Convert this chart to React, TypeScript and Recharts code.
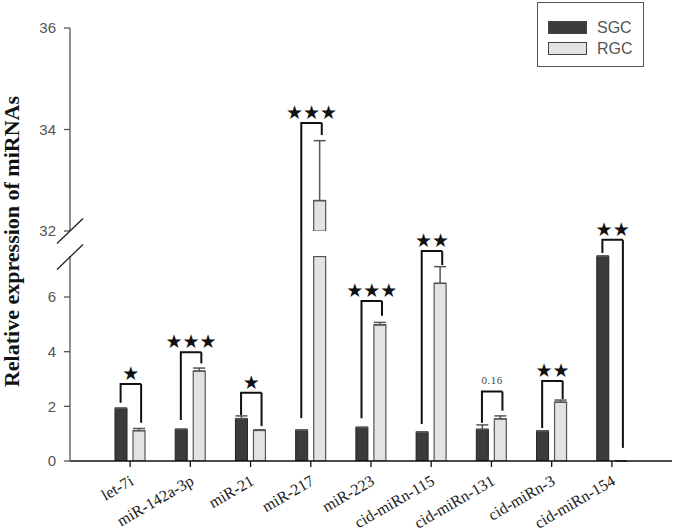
import { BarChart, Bar, XAxis, YAxis, ErrorBar, ReferenceLine, Legend } from 'recharts'

const categories = ['let-7i', 'miR-142a-3p', 'miR-21', 'miR-217', 'miR-223', 'cid-miRn-115', 'cid-miRn-131', 'cid-miRn-3', 'cid-miRn-154']
const sgcValues = [1.93, 1.16, 1.55, 1.13, 1.23, 1.06, 1.16, 1.1, 7.5]
const rgcValues = [1.11, 3.29, 1.12, 32.6, 4.98, 6.5, 1.54, 2.15, 0]
const sgcErrors = [0, 0, 0.1, 0, 0, 0, 0.16, 0, 0]
const rgcErrors = [0.08, 0.11, 0.02, 1.18, 0.09, 0.61, 0.11, 0.08, 0]
const seriesNames = ['SGC', 'RGC']

// significance brackets: top, left leg end, right leg end, mark
const bracketTops = [2.82, 3.98, 2.5, 34.13, 5.85, 7.68, 2.54, 2.93, 8.09]
const bracketLeftEnds = [2.13, 1.5, 1.68, 1.57, 1.56, 1.35, 1.4, 1.21, 7.61]
const bracketRightEnds = [1.4, 3.57, 1.28, 33.89, 5.31, 7.17, 1.84, 2.27, 0.48]
const bracketMarks = ['★', '★★★', '★', '★★★', '★★★', '★★', '0.16', '★★', '★★']

const lowerTicks = [0, 2, 4, 6]
const upperTicks = [32, 34, 36]
const LOWER_MAX = 7.5
const UPPER_MIN = 32
const UPPER_MAX = 36

// layout
const W = 675
const H = 532
const PLOT_LEFT = 70
const PLOT_RIGHT = 672
const UPPER_TOP = 28
const UPPER_BOTTOM = 231
const LOWER_TOP = 256
const LOWER_BOTTOM = 461
const LEG_L = -9.5
const LEG_R = 11

const SGC_FILL = '#3b3b3b'
const RGC_FILL = '#e3e3e3'

const rows = categories.map((name, i) => ({
  name,
  sgc: sgcValues[i],
  rgc: rgcValues[i],
  sgcErr: [0, sgcErrors[i]],
  rgcErr: [0, rgcValues[i] > LOWER_MAX ? 0 : rgcErrors[i]],
}))

const upperRows = categories.map((name, i) => ({
  name,
  sgc: sgcValues[i] > UPPER_MIN ? sgcValues[i] : null,
  rgc: rgcValues[i] > UPPER_MIN ? rgcValues[i] : null,
  sgcErr: [0, sgcValues[i] > UPPER_MIN ? sgcErrors[i] : 0],
  rgcErr: [0, rgcValues[i] > UPPER_MIN ? rgcErrors[i] : 0],
}))

const yTick = { fill: '#555', fontSize: 15, fontFamily: 'Liberation Sans, Arial, sans-serif' }
const bracketStroke = { stroke: '#111', strokeWidth: 2, fill: 'none' }

function LeftPart(p: any) {
  const xl = p.x1 + LEG_L
  const xr = p.x1 + LEG_R
  return <path d={`M${xl},${p.y1}V${p.y2}H${xr}`} {...bracketStroke} />
}

function LegToGap(p: any) {
  const xl = p.x1 + LEG_L
  return <path d={`M${xl},${p.y1}V${p.y2 - (LOWER_TOP - UPPER_BOTTOM)}`} {...bracketStroke} />
}

function RightPart(p: any) {
  const xl = p.x1 + LEG_L
  const xr = p.x1 + LEG_R
  const star = p.mark.startsWith('★')
  return (
    <g>
      <path d={`M${xr},${p.y1}V${p.y2}`} {...bracketStroke} />
      <text
        x={(xl + xr) / 2}
        y={p.y2 - (star ? 11 : 12)}
        textAnchor="middle"
        dominantBaseline="central"
        fill={star ? '#111' : '#444'}
        fontSize={star ? 19 : 11}
        letterSpacing={star ? 0 : 0.5}
        fontFamily={star ? 'DejaVu Sans' : 'Liberation Serif, serif'}
      >
        {p.mark}
      </text>
    </g>
  )
}

// keep the clipped part of a bar outlined at the top of its panel
function ClampedBar(p: any) {
  const top = p.background ? Math.max(p.y, p.background.y + 0.6) : p.y
  const h = p.y + p.height - top
  if (!(h > 0) || !(p.width > 0)) return null
  return <rect x={p.x} y={top} width={p.width} height={h} fill={p.fill} stroke={p.stroke} strokeWidth={p.strokeWidth} />
}

function XTick({ x, y, payload }: any) {
  const ax = x + 4.5
  const ay = y + 15
  return (
    <text
      x={ax}
      y={ay}
      textAnchor="end"
      transform={`rotate(-30 ${ax} ${ay})`}
      fill="#1a1a1a"
      fontSize={16}
      fontFamily="Liberation Serif, Times New Roman, serif"
    >
      {payload.value}
    </text>
  )
}

function LegendBox({ payload }: any) {
  const items = [...(payload || [])].sort((a: any, b: any) => seriesNames.indexOf(a.value) - seriesNames.indexOf(b.value))
  return (
    <div style={{ width: 107, height: 65, border: '1px solid #555', boxSizing: 'border-box', background: '#fff', paddingTop: 14, paddingLeft: 10 }}>
      {items.map((entry: any) => (
        <div key={entry.value} style={{ display: 'flex', alignItems: 'center', height: 21 }}>
          <span style={{ display: 'inline-block', width: 37, height: 11, background: entry.color, border: '1px solid #444' }} />
          <span style={{ marginLeft: 10, fontSize: 16, color: '#555', fontFamily: 'Liberation Sans, Arial, sans-serif' }}>{entry.value}</span>
        </div>
      ))}
    </div>
  )
}

export default function App() {
  return (
    <div style={{ position: 'absolute', left: 0, top: 0, width: W, height: H, background: '#fff' }}>
      {/* upper panel 32-36 */}
      <div style={{ position: 'absolute', left: 0, top: 0 }}>
        <BarChart
          width={W}
          height={H}
          data={upperRows}
          margin={{ top: UPPER_TOP, right: W - PLOT_RIGHT, bottom: H - UPPER_BOTTOM, left: 0 }}
          barSize={12}
          barGap={6}
        >
          <XAxis dataKey="name" hide padding={{ left: 30, right: 30 }} />
          <YAxis
            width={PLOT_LEFT}
            domain={[UPPER_MIN, UPPER_MAX]}
            ticks={upperTicks}
            allowDataOverflow
            tick={yTick}
            tickSize={6}
            tickMargin={8}
            axisLine={{ stroke: '#555', strokeWidth: 1.3 }}
            tickLine={{ stroke: '#555', strokeWidth: 1.3 }}
          />
          <Bar dataKey="sgc" name="SGC" fill={SGC_FILL} stroke="#222" isAnimationActive={false}>
            <ErrorBar dataKey="sgcErr" width={6} stroke="#555" strokeWidth={1.5} />
          </Bar>
          <Bar dataKey="rgc" name="RGC" fill={RGC_FILL} stroke="#555" strokeWidth={1.2} isAnimationActive={false}>
            <ErrorBar dataKey="rgcErr" width={6} stroke="#555" strokeWidth={1.5} />
          </Bar>
          {categories.map((c, i) =>
            bracketTops[i] > UPPER_MIN ? (
              <ReferenceLine
                key={`ul-${c}`}
                segment={[{ x: c, y: UPPER_MIN }, { x: c, y: bracketTops[i] }]}
                ifOverflow="visible"
                shape={(p: any) => <LeftPart {...p} />}
              />
            ) : null
          )}
          {categories.map((c, i) =>
            bracketTops[i] > UPPER_MIN ? (
              <ReferenceLine
                key={`ur-${c}`}
                segment={[{ x: c, y: bracketRightEnds[i] }, { x: c, y: bracketTops[i] }]}
                ifOverflow="visible"
                shape={(p: any) => <RightPart {...p} mark={bracketMarks[i]} />}
              />
            ) : null
          )}
          <Legend
            layout="horizontal"
            verticalAlign="middle"
            align="center"
            wrapperStyle={{ top: 2, left: 537, width: 107 }}
            content={<LegendBox />}
          />
        </BarChart>
      </div>

      {/* lower panel 0-7.5 */}
      <div style={{ position: 'absolute', left: 0, top: 0 }}>
        <BarChart
          width={W}
          height={H}
          data={rows}
          margin={{ top: LOWER_TOP, right: W - PLOT_RIGHT, bottom: 0, left: 0 }}
          barSize={12}
          barGap={6}
        >
          <XAxis
            dataKey="name"
            padding={{ left: 30, right: 30 }}
            height={H - LOWER_BOTTOM}
            interval={0}
            tick={<XTick />}
            tickSize={6}
            axisLine={{ stroke: '#111', strokeWidth: 1.5 }}
            tickLine={{ stroke: '#111', strokeWidth: 1.3 }}
          />
          <YAxis
            width={PLOT_LEFT}
            domain={[0, LOWER_MAX]}
            ticks={lowerTicks}
            allowDataOverflow
            tick={yTick}
            tickSize={6}
            tickMargin={8}
            axisLine={{ stroke: '#555', strokeWidth: 1.3 }}
            tickLine={{ stroke: '#555', strokeWidth: 1.3 }}
          />
          <Bar dataKey="sgc" name="SGC" fill={SGC_FILL} stroke="#222" isAnimationActive={false} shape={(p: any) => <ClampedBar {...p} />}>
            <ErrorBar dataKey="sgcErr" width={6} stroke="#555" strokeWidth={1.5} />
          </Bar>
          <Bar dataKey="rgc" name="RGC" fill={RGC_FILL} stroke="#555" strokeWidth={1.2} isAnimationActive={false} shape={(p: any) => <ClampedBar {...p} />}>
            <ErrorBar dataKey="rgcErr" width={6} stroke="#555" strokeWidth={1.5} />
          </Bar>
          {categories.map((c, i) =>
            bracketTops[i] > UPPER_MIN ? (
              <ReferenceLine
                key={`ll-${c}`}
                segment={[{ x: c, y: bracketLeftEnds[i] }, { x: c, y: LOWER_MAX }]}
                ifOverflow="visible"
                shape={(p: any) => <LegToGap {...p} />}
              />
            ) : (
              <ReferenceLine
                key={`ll-${c}`}
                segment={[{ x: c, y: bracketLeftEnds[i] }, { x: c, y: bracketTops[i] }]}
                ifOverflow="visible"
                shape={(p: any) => <LeftPart {...p} />}
              />
            )
          )}
          {categories.map((c, i) =>
            bracketTops[i] > UPPER_MIN ? null : (
              <ReferenceLine
                key={`lr-${c}`}
                segment={[{ x: c, y: bracketRightEnds[i] }, { x: c, y: bracketTops[i] }]}
                ifOverflow="visible"
                shape={(p: any) => <RightPart {...p} mark={bracketMarks[i]} />}
              />
            )
          )}
        </BarChart>
      </div>

      {/* axis break marks and y title */}
      <svg width={W} height={H} style={{ position: 'absolute', left: 0, top: 0, pointerEvents: 'none' }}>
        {[UPPER_BOTTOM, LOWER_TOP + 1].map((y) => (
          <line key={y} x1={PLOT_LEFT - 13} y1={y + 12.5} x2={PLOT_LEFT + 13} y2={y - 12.5} stroke="#222" strokeWidth={1.3} />
        ))}
        <text
          x={0}
          y={0}
          transform={`translate(19 ${(UPPER_TOP + LOWER_BOTTOM) / 2 - 3}) rotate(-90)`}
          textAnchor="middle"
          fontSize={22}
          fontWeight="bold"
          fontFamily="Liberation Serif, Times New Roman, serif"
          fill="#111"
        >
          Relative expression of miRNAs
        </text>
      </svg>
    </div>
  )
}
